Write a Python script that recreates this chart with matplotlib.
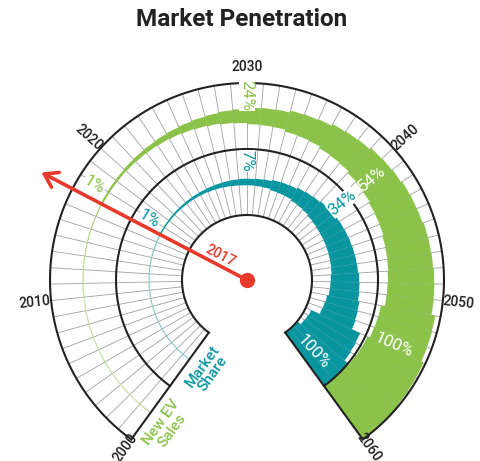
import numpy as np
import matplotlib.pyplot as plt

# data, one value per year 2000..2059 (percent)
years = np.arange(2000, 2060)
new_ev_sales = [0, 0, 0, 0, 0, 0, 0, 0, 0, 0,
                0.1, 0.2, 0.3, 0.4, 0.5, 0.7, 0.9,
                3, 3.5, 4, 5, 6, 7, 8.5, 10, 12, 14, 16, 19, 21,
                25, 26, 27, 33, 34, 36, 42, 44, 46, 52, 54, 56,
                60, 61, 62, 66, 67, 68, 70, 71, 72, 84, 85, 86,
                94, 95, 96, 100, 100, 100]
market_share = [0, 0, 0, 0, 0, 0, 0, 0, 0, 0, 0, 0,
                0.05, 0.1, 0.15, 0.2, 0.3,
                2, 2, 2.5, 3, 3.5, 4, 4.5, 5, 6, 7, 8, 9, 10,
                10, 11, 12, 16, 17, 18, 22, 24, 26, 30, 32, 34,
                35, 36, 37, 38, 39, 40, 43, 44, 45, 50, 52, 54,
                82, 84, 86, 100, 100, 100]
tick_years = [2000, 2010, 2020, 2030, 2040, 2050, 2060]
highlight_year = 2017

# value labels: (year position, text)
sales_labels = [(2017.9, "1%"), (2030.0, "24%"), (2040.6, "54%"), (2053.7, "100%")]
share_labels = [(2017.9, "1%"), (2030.0, "7%"), (2040.6, "34%"), (2058.6, "100%")]

GREEN = "#8bc34a"
TEAL = "#0a96a0"
RED = "#e8392b"
DARK = "#222222"
FONT = ["Roboto", "DejaVu Sans"]

DEG_PER_YEAR = 4.8
R_IN, R_MID, R_OUT = 65, 131, 197
share_mid = (R_IN + R_MID) / 2
sales_mid = (R_MID + R_OUT) / 2
ring = R_MID - R_IN


def ang(year):
    return -144 + (year - 2000) * DEG_PER_YEAR


def th(year):
    return np.radians(ang(year))


def radial_rot(year):
    phi = 90 - ang(year)
    if phi >= 90:
        phi -= 180
    if phi < -90:
        phi += 180
    return phi


fig = plt.figure(figsize=(4.8, 4.61), dpi=100)
cx, cy, rmax = 247, 181, 240
ax = fig.add_axes([(cx - rmax) / 480, (cy - rmax) / 461, 2 * rmax / 480, 2 * rmax / 461],
                  projection="polar")
ax.set_theta_zero_location("N")
ax.set_theta_direction(-1)
ax.set_ylim(0, rmax)
ax.set_axis_off()

t0, t1 = th(2000), th(2060)
arc = np.linspace(t0, t1, 400)

# year grid lines
for y in range(2001, 2060):
    ax.plot([th(y), th(y)], [R_IN, R_OUT], color="#a0a0a0", lw=0.6, zorder=1)

# faint guide lines at ring centres
ax.plot(arc, np.full_like(arc, sales_mid), color="#c5e3a3", lw=0.9, zorder=1.5)
ax.plot(arc, np.full_like(arc, share_mid), color="#8fcfd4", lw=0.9, zorder=1.5)

# bars, centred on the ring middle
centers = th(years + 0.5)
width = np.radians(DEG_PER_YEAR)
h_sales = np.array(new_ev_sales) / 100 * ring
h_share = np.array(market_share) / 100 * ring
ax.bar(centers, h_sales, width=width, bottom=sales_mid - h_sales / 2,
       color=GREEN, linewidth=0, zorder=2)
ax.bar(centers, h_share, width=width, bottom=share_mid - h_share / 2,
       color=TEAL, linewidth=0, zorder=2)

# black ring outlines
for r in (R_IN, R_MID, R_OUT):
    ax.plot(arc, np.full_like(arc, r), color=DARK, lw=1.5, zorder=3)
for t in (t0, t1):
    ax.plot([t, t], [R_IN, R_OUT], color=DARK, lw=1.5, zorder=3)

# year ticks
for y in tick_years:
    rot = 0 if y == 2030 else radial_rot(y)
    r = 207 if y in (2000, 2060) else 213
    ax.text(th(y), r, str(y), rotation=rot, rotation_mode="anchor",
            ha="center", va="center", fontsize=10, fontweight="medium", color=DARK,
            family=FONT, zorder=4)

# value labels
for y, s in sales_labels:
    if s in ("54%", "100%"):
        ax.text(th(y), sales_mid - 3, s, rotation=radial_rot(y), rotation_mode="anchor",
                ha="center", va="center", fontsize=12, color="white",
                family=FONT, zorder=4)
    else:
        r = 185 if s == "24%" else 180
        ax.text(th(y), r, s, rotation=radial_rot(y), rotation_mode="anchor",
                ha="center", va="center", fontsize=12, color=GREEN,
                family=FONT, zorder=4,
                bbox=dict(facecolor="white", edgecolor="none", pad=0.5))
for y, s in share_labels:
    if s == "100%":
        ax.text(th(y), share_mid, s, rotation=radial_rot(y), rotation_mode="anchor",
                ha="center", va="center", fontsize=12, color="white",
                family=FONT, zorder=4)
    else:
        r = {"1%": 115, "7%": 119, "34%": 123}[s]
        ax.text(th(y), r, s, rotation=radial_rot(y), rotation_mode="anchor",
                ha="center", va="center", fontsize=12, color=TEAL,
                family=FONT, zorder=4,
                bbox=dict(facecolor="white", edgecolor="none", pad=0.5))

# ring names beside the 2000 edge
end_rot = radial_rot(2000)
for r, s, c in ((share_mid, "Market\nShare", TEAL), (sales_mid + 3, "New EV\nSales", GREEN)):
    off = np.degrees(np.arcsin(21 / r))
    ax.text(np.radians(ang(2000) - off), r, s, rotation=end_rot, rotation_mode="anchor",
            ha="center", va="center", fontsize=11, fontweight="medium", color=c,
            linespacing=0.95, family=FONT, zorder=4)

# 2017 pointer
ax.annotate("", xy=(th(highlight_year), 232), xytext=(0, 0),
            arrowprops=dict(arrowstyle="->,head_length=0.9,head_width=0.6",
                            color=RED, lw=2.6, shrinkA=0, shrinkB=0), zorder=5)
ax.plot([0], [0], "o", ms=10, color=RED, zorder=6)
ax.text(np.radians(-47), 36, str(highlight_year), rotation=radial_rot(highlight_year),
        rotation_mode="anchor", ha="center", va="center", fontsize=10,
        fontweight="medium", color=RED, family=FONT, zorder=6)

fig.text(0.503, 1 - 19 / 461, "Market Penetration", ha="center", va="center",
         fontsize=17.5, fontweight="bold", color=DARK, family=FONT)

fig.savefig("out.png", dpi=100)
